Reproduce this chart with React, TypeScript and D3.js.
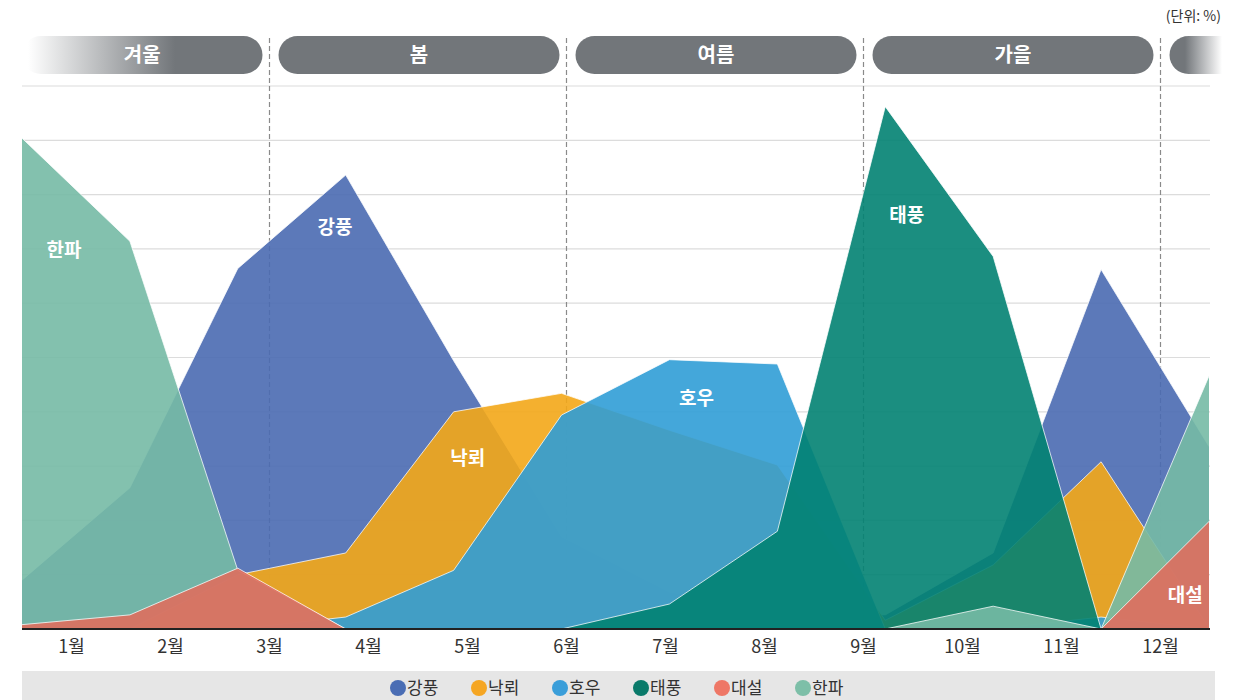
import React from "react";
import * as d3 from "d3";

const months = ["1월", "2월", "3월", "4월", "5월", "6월", "7월", "8월", "9월", "10월", "11월", "12월"];
const seasons = ["겨울", "봄", "여름", "가을", ""];
const gangpung = [4.5, 13.0, 33.2, 41.8, 24.7, 8.5, 3.4, 1.7, 1.3, 7.0, 33.1, 16.8];
const nakroe = [0, 0, 5.0, 7.0, 20.0, 21.7, 18.3, 15.1, 0.8, 5.9, 15.4, 0.1];
const hou = [0, 0, 0, 1.1, 5.4, 19.7, 24.8, 24.4, 0, 0, 1.1, 0];
const taepung = [0, 0, 0, 0, 0, 0, 2.3, 9.0, 48.1, 34.3, 0, 0];
const hanpa = [45.2, 35.7, 5.4, 0, 0, 0, 0, 0, 0, 2.1, 0, 23.3];
const daeseol = [0.4, 1.3, 5.6, 0, 0, 0, 0, 0, 0, 0, 0, 9.9];
const yTicks = [0, 5, 10, 15, 20, 25, 30, 35, 40, 45, 50];

const seriesNames = ["강풍", "낙뢰", "호우", "태풍", "한파", "대설"];
const seriesValues = [gangpung, nakroe, hou, taepung, hanpa, daeseol];
const seriesColors = ["#4a6ab1", "#f3a718", "#309dd6", "#028272", "#75baa5", "#df6e5e"];
const labelPos: Record<string, [number, number]> = {
  "한파": [0.39, 34.3],
  "강풍": [2.9, 36.4],
  "낙뢰": [4.13, 15.1],
  "호우": [6.25, 20.6],
  "태풍": [8.2, 37.5],
  "대설": [10.78, 2.5],
};
const legendOrder = ["강풍", "낙뢰", "호우", "태풍", "대설", "한파"];
const legendColors = ["#4a6db4", "#f5a623", "#3a9ed9", "#0a7a6a", "#ee7766", "#7dbfa8"];

const KR = "'Noto Sans CJK KR', 'Noto Sans', sans-serif";

export default function App() {
  const W = 1242, H = 700;
  const left = 22, right = 1210, top = 86, bottom = 629;
  const x = d3.scaleLinear().domain([0, 11]).range([left, 1209]);
  const xb = d3.scaleBand<string>().domain(months).range([left, right]);
  const y = d3.scaleLinear().domain([0, 50]).range([bottom, top]);
  const idx = d3.range(12);

  const area = (vals: number[]) =>
    d3.area<number>().x((i) => x(i)).y0(y(0)).y1((i) => y(vals[i]))(idx) || "";
  const line = (vals: number[]) =>
    d3.line<number>().x((i) => x(i)).y((i) => y(vals[i]))(idx) || "";

  const dashMonths = ["3월", "6월", "9월", "12월"];
  const dashX = dashMonths.map((m) => (xb(m) as number) + xb.bandwidth() / 2);
  const bounds = [left, ...dashX, 1240];
  const pills = seasons.map((s, i) => {
    const x0 = i === 0 ? left : bounds[i] + 9;
    const x1 = i === seasons.length - 1 ? 1240 : bounds[i + 1] - 7;
    return { s, x0, x1 };
  });

  return (
    <svg width={W} height={H} style={{ display: "block", position: "absolute", left: 0, top: 0 }}>
      <defs>
        <linearGradient id="gWinter" gradientUnits="userSpaceOnUse" x1={28} x2={175} y1={0} y2={0}>
          <stop offset="0" stopColor="#72767a" stopOpacity={0} />
          <stop offset="1" stopColor="#72767a" stopOpacity={1} />
        </linearGradient>
        <linearGradient id="gNext" gradientUnits="userSpaceOnUse" x1={1185} x2={1222} y1={0} y2={0}>
          <stop offset="0" stopColor="#72767a" stopOpacity={1} />
          <stop offset="1" stopColor="#72767a" stopOpacity={0} />
        </linearGradient>
        <clipPath id="clipTop">
          <rect x={0} y={0} width={1222} height={H} />
        </clipPath>
      </defs>
      <rect x={0} y={0} width={W} height={H} fill="#ffffff" />
      <text x={1221} y={21} textAnchor="end" fontFamily={KR} fontSize={14} fill="#333">(단위: %)</text>

      {/* season pills */}
      <g clipPath="url(#clipTop)">
        {pills.map((p, i) => (
          <g key={i}>
            <rect
              x={p.x0}
              y={36}
              width={p.x1 - p.x0}
              height={38}
              rx={19}
              fill={i === 0 ? "url(#gWinter)" : i === pills.length - 1 ? "url(#gNext)" : "#72767a"}
            />
            {p.s && (
              <text
                x={(p.x0 + p.x1) / 2}
                y={62}
                textAnchor="middle"
                fontFamily={KR}
                fontWeight={700}
                fontSize={20}
                fill="#fff"
              >
                {p.s}
              </text>
            )}
          </g>
        ))}
      </g>

      {/* grid */}
      {yTicks.slice(1).map((t) => (
        <line key={t} x1={left} x2={right} y1={y(t)} y2={y(t)} stroke="#dcdcdc" strokeWidth={1.2} />
      ))}
      {/* dashed season dividers */}
      {dashX.map((dx, i) => (
        <line key={i} x1={dx} x2={dx} y1={38} y2={bottom} stroke="#8a8a8a" strokeWidth={1.2} strokeDasharray="5,3" />
      ))}

      {/* areas */}
      {seriesValues.map((vals, i) => (
        <g key={seriesNames[i]}>
          <path d={area(vals)} fill={seriesColors[i]} fillOpacity={0.9} />
          <path d={line(vals)} fill="none" stroke="#ffffff" strokeOpacity={0.75} strokeWidth={1} />
        </g>
      ))}

      {/* series labels */}
      {seriesNames.map((n) => (
        <text
          key={n}
          x={x(labelPos[n][0])}
          y={y(labelPos[n][1])}
          textAnchor="middle"
          fontFamily={KR}
          fontWeight={700}
          fontSize={19}
          fill="#fff"
        >
          {n}
        </text>
      ))}

      {/* baseline */}
      <line x1={left} x2={right} y1={bottom} y2={bottom} stroke="#222" strokeWidth={2} />

      {/* month labels */}
      {months.map((m) => (
        <text
          key={m}
          x={(xb(m) as number) + xb.bandwidth() / 2}
          y={653}
          textAnchor="middle"
          fontFamily={KR}
          fontSize={18}
          fill="#333"
        >
          {m}
        </text>
      ))}

      {/* legend */}
      <rect x={22} y={671} width={1193} height={40} fill="#e6e6e6" />
      {legendOrder.map((n, i) => {
        const cx = 398 + i * 81;
        return (
          <g key={n}>
            <circle cx={cx} cy={688} r={8} fill={legendColors[i]} />
            <text x={cx + 9} y={694} fontFamily={KR} fontSize={17} fill="#333">
              {n}
            </text>
          </g>
        );
      })}
    </svg>
  );
}
